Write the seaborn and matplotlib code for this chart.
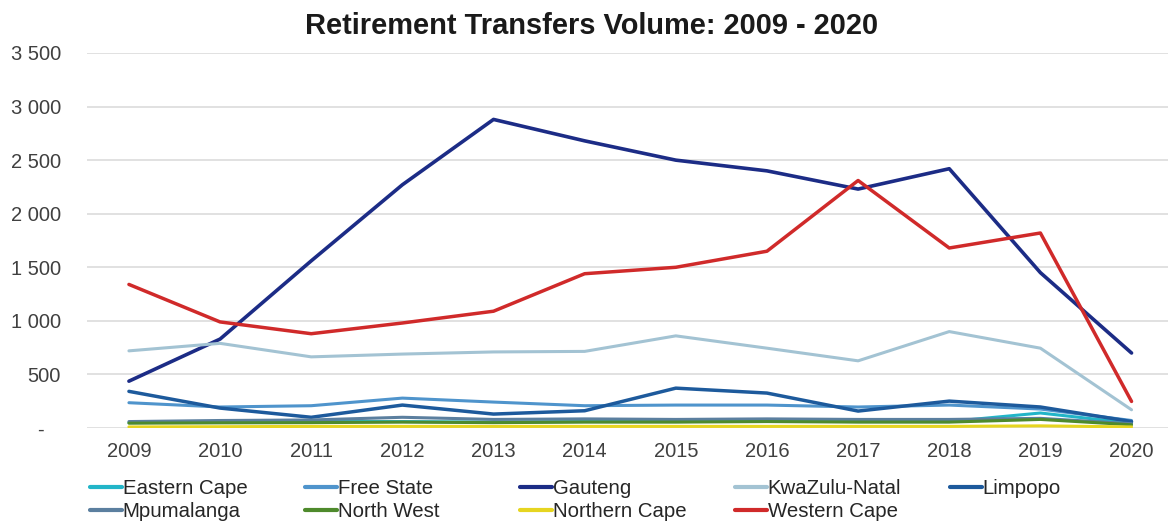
import matplotlib
matplotlib.use("Agg")
import matplotlib.pyplot as plt
import seaborn as sns
import pandas as pd
from matplotlib.ticker import FuncFormatter

years = [2009, 2010, 2011, 2012, 2013, 2014, 2015, 2016, 2017, 2018, 2019, 2020]

eastern_cape = [50, 55, 60, 60, 55, 60, 60, 65, 60, 60, 140, 45]
free_state = [236, 196, 208, 279, 242, 208, 214, 214, 196, 214, 177, 70]
gauteng = [437, 830, 1560, 2270, 2880, 2680, 2500, 2400, 2230, 2420, 1450, 700]
kwazulu_natal = [720, 790, 664, 690, 710, 715, 860, 745, 627, 900, 745, 170]
limpopo = [342, 186, 100, 214, 130, 161, 372, 326, 158, 251, 196, 60]
mpumalanga = [60, 70, 75, 100, 80, 85, 80, 85, 80, 80, 90, 40]
north_west = [45, 48, 50, 55, 50, 55, 55, 60, 55, 55, 80, 30]
northern_cape = [10, 12, 15, 15, 15, 15, 15, 15, 15, 15, 20, 10]
western_cape = [1340, 990, 880, 980, 1090, 1440, 1500, 1650, 2310, 1680, 1820, 248]

provinces = ["Eastern Cape", "Free State", "Gauteng", "KwaZulu-Natal", "Limpopo",
             "Mpumalanga", "North West", "Northern Cape", "Western Cape"]
series = [eastern_cape, free_state, gauteng, kwazulu_natal, limpopo,
          mpumalanga, north_west, northern_cape, western_cape]
colors = ["#22b5c8", "#4f94cc", "#1c2c86", "#a3c3d3", "#1d5a9c",
          "#5b7f9f", "#4e8a2c", "#e6d520", "#d02a2a"]

rows = []
for name, vals in zip(provinces, series):
    for i, (yr, v) in enumerate(zip(years, vals)):
        rows.append({"pos": i, "Year": yr, "Province": name, "Volume": v})
df = pd.DataFrame(rows)

sns.set_theme(style="white")
plt.rcParams["font.family"] = ["Liberation Sans", "DejaVu Sans"]

fig = plt.figure(figsize=(11.68, 5.22), dpi=100)
ax = fig.add_axes([87 / 1168, 1 - 428 / 522, 1 - 87 / 1168, (428 - 53) / 522])

widths = {"Gauteng": 2.6, "Limpopo": 2.5, "Western Cape": 2.5}
sns.lineplot(data=df, x="pos", y="Volume", hue="Province", hue_order=provinces,
             palette=colors, ax=ax, linewidth=2.2, legend=True)
for line, name in zip(ax.get_lines(), provinces):
    line.set_linewidth(widths.get(name, 2.2))

ax.set_xlim(-0.46, 11.40)
ax.set_ylim(0, 3500)
ax.set_yticks(range(0, 3501, 500))
ax.yaxis.set_major_formatter(FuncFormatter(
    lambda v, p: "-   " if v == 0 else f"{int(v):,}".replace(",", " ")))
ax.set_xticks(range(len(years)))
ax.set_xticklabels([str(y) for y in years])
ax.grid(axis="y", color="#dedede", linewidth=1.3)
ax.set_axisbelow(True)
for s in ["top", "right", "left", "bottom"]:
    ax.spines[s].set_visible(False)
ax.tick_params(axis="both", length=0, colors="#404040")
ax.tick_params(axis="y", pad=18.7, labelsize=14.5)
ax.tick_params(axis="x", pad=10, labelsize=14.5)
for lbl in ax.get_yticklabels():
    lbl.set_horizontalalignment("right")
ax.set_xlabel("")
ax.set_ylabel("")

fig.text(592 / 1168, 1 - 26 / 522, "Retirement Transfers Volume: 2009 - 2020",
         fontsize=20.9, fontweight="bold", color="#1a1a1a",
         ha="center", va="center")

handles, labels = ax.get_legend_handles_labels()
ax.get_legend().remove()
col_x = [90, 305, 520, 735, 950]
for c, x0 in enumerate(col_x):
    idx = [c] + ([c + 5] if c + 5 < len(handles) else [])
    leg = fig.legend([handles[i] for i in idx], [labels[i] for i in idx],
                     loc="upper left", bbox_to_anchor=(x0 / 1168, 1 - 479 / 522),
                     frameon=False, fontsize=14.7, handlelength=1.55,
                     handletextpad=0.05, labelspacing=0.2, borderpad=0,
                     borderaxespad=0)
    for ln in leg.get_lines():
        ln.set_linewidth(3)
    for t in leg.get_texts():
        t.set_color("#262626")

fig.savefig("out.png", dpi=100)
